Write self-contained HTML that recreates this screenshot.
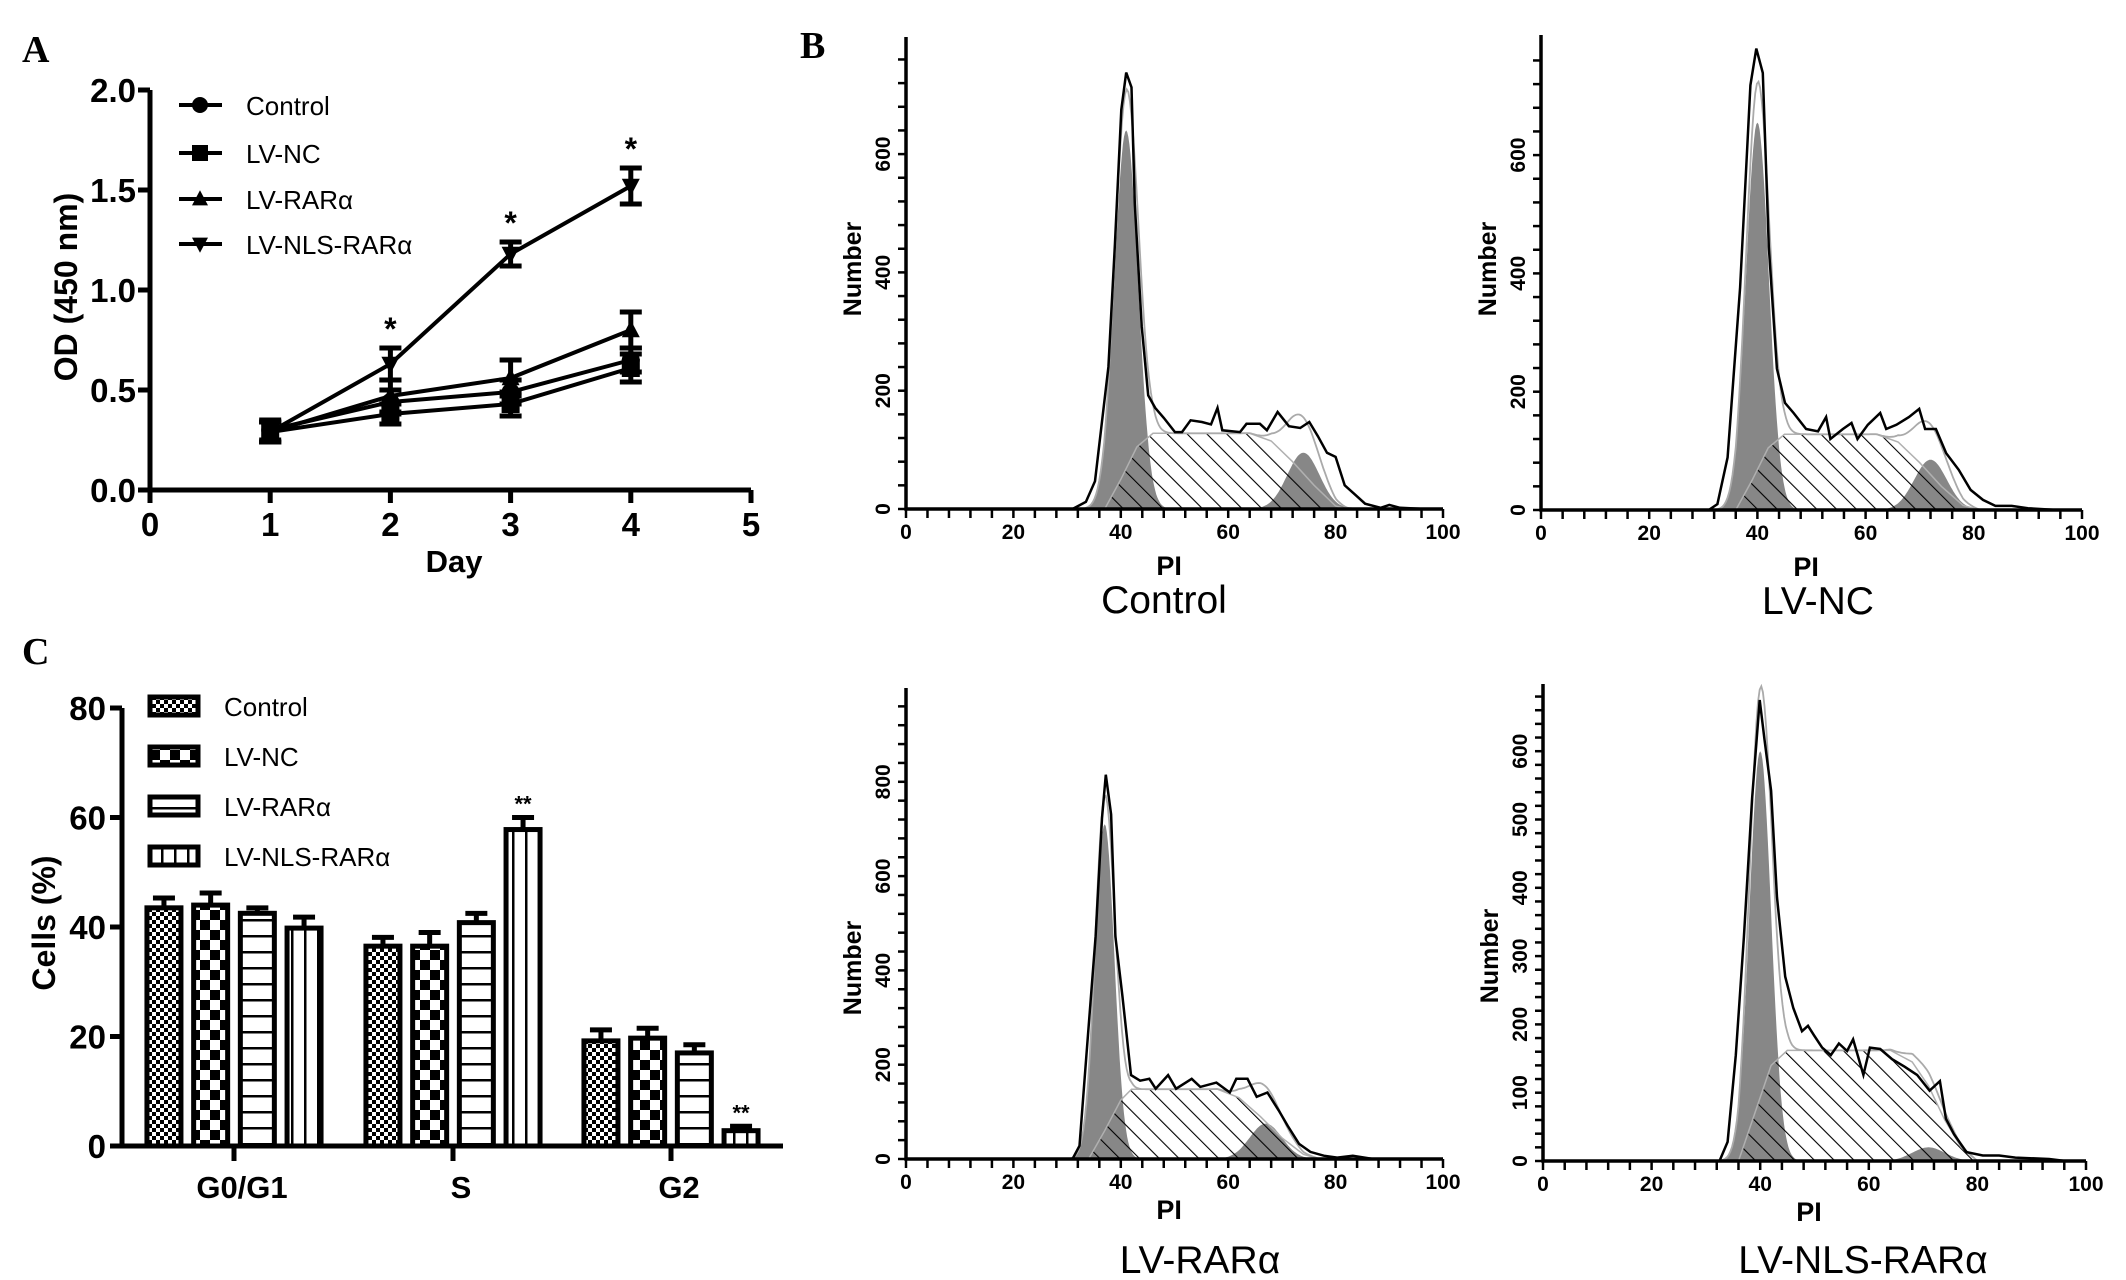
<!DOCTYPE html>
<html><head><meta charset="utf-8"><style>
html,body{margin:0;padding:0;background:#fff}
svg{display:block}
text{font-family:"Liberation Sans",sans-serif}
.ser{font-family:"Liberation Serif",serif;font-weight:bold}
.b{font-weight:bold}
</style></head><body>
<svg id="fig" width="2126" height="1280" viewBox="0 0 2126 1280" xmlns="http://www.w3.org/2000/svg">
<defs>
<pattern id="hatch" patternUnits="userSpaceOnUse" width="14" height="14" patternTransform="rotate(-45)"><line x1="0" y1="0" x2="0" y2="14" stroke="#000" stroke-width="2.2"/></pattern>
<pattern id="fineCheck" patternUnits="userSpaceOnUse" width="8" height="8"><rect width="8" height="8" fill="#fff"/><rect width="4" height="4" fill="#000"/><rect x="4" y="4" width="4" height="4" fill="#000"/></pattern>
<pattern id="bigCheck" patternUnits="userSpaceOnUse" width="20" height="20"><rect width="20" height="20" fill="#fff"/><rect width="10" height="10" fill="#000"/><rect x="10" y="10" width="10" height="10" fill="#000"/></pattern>
<pattern id="hLines" patternUnits="userSpaceOnUse" width="10" height="16"><rect width="10" height="16" fill="#fff"/><rect y="7" width="10" height="2.5" fill="#000"/></pattern>
<pattern id="vLines" patternUnits="userSpaceOnUse" width="13" height="10"><rect width="13" height="10" fill="#fff"/><rect x="5" width="2.5" height="10" fill="#000"/></pattern>
</defs>
<text x="22" y="62" class="ser" font-size="38">A</text>
<text x="22" y="664" class="ser" font-size="38">C</text>
<text x="800" y="58" class="ser" font-size="38">B</text>
<g id="gA"></g>
<g id="gC"></g>
<g id="gB"></g>
</svg>
<script>
// ---------- Panel A data ----------
const aDays = [1, 2, 3, 4];
const aSeries = ["Control", "LV-NC", "LV-RARα", "LV-NLS-RARα"];
const aControl = [0.30, 0.44, 0.49, 0.65];
const aLVNC = [0.29, 0.38, 0.43, 0.61];
const aLVRAR = [0.29, 0.47, 0.56, 0.80];
const aLVNLS = [0.29, 0.63, 1.18, 1.52];
const aErrControl = [0.05, 0.06, 0.06, 0.06];
const aErrLVNC = [0.05, 0.05, 0.06, 0.07];
const aErrLVRAR = [0.05, 0.08, 0.09, 0.09];
const aErrLVNLS = [0.05, 0.08, 0.06, 0.09];
const aXTicks = [0, 1, 2, 3, 4, 5];
const aYTicks = ["0.0", "0.5", "1.0", "1.5", "2.0"];
const aStarDays = [2, 3, 4];

// ---------- Panel C data ----------
const cPhases = ["G0/G1", "S", "G2"];
const cGroups = ["Control", "LV-NC", "LV-RARα", "LV-NLS-RARα"];
const cControl = [43.5, 36.5, 19.2];
const cLVNC = [44.0, 36.5, 19.7];
const cLVRAR = [42.5, 40.8, 17.0];
const cLVNLS = [39.8, 57.8, 2.8];
const cErrControl = [1.8, 1.6, 2.0];
const cErrLVNC = [2.2, 2.5, 1.8];
const cErrLVRAR = [1.0, 1.7, 1.5];
const cErrLVNLS = [2.0, 2.2, 0.8];
const cYTicks = [0, 20, 40, 60, 80];

// ---------- Panel B data (PI, count) ----------
const bTitles = ["Control", "LV-NC", "LV-RARα", "LV-NLS-RARα"];
const bOutlineControl = [[31,0],[33.5,12],[35.2,47],[37.7,240],[38.9,447],[40.1,675],[41,738],[42,713],[42.6,516],[43.9,309],[45.1,192],[46.4,171],[48,154],[50.1,130],[51.4,130],[53,150],[55.1,147],[56.8,143],[58,171],[58.9,133],[62.2,130],[63.4,144],[65.9,144],[67.2,133],[69.2,164],[71.3,140],[73.4,137],[75.1,147],[76.7,123],[78.4,95],[80,88],[81.7,40],[83.8,23],[85.5,9],[88.4,2],[90,7],[92,2],[96.7,0]];
const bOutlineLVNC = [[31,0],[32.6,10],[34.5,89],[36.8,376],[38.7,718],[39.8,780],[41,739],[42.1,445],[43.6,239],[45.1,181],[46.7,164],[49,137],[51.2,133],[52.7,157],[53.5,120],[55.8,137],[57.4,147],[58.5,120],[60.4,144],[62.7,164],[63.8,137],[65.7,144],[68,157],[69.9,171],[71,137],[73,137],[74.9,96],[77.2,68],[79.4,34],[81.7,17],[84,7],[87,7],[90,3],[95.4,0]];
const bOutlineLVRAR = [[31,0],[32.3,28],[33.6,220],[35.3,472],[36.5,723],[37.2,815],[38.2,731],[39,472],[40.3,346],[41.9,178],[43.6,166],[45.3,170],[46.5,149],[48.8,178],[50.3,149],[53.2,170],[54.8,153],[57.8,162],[60.3,141],[61.5,170],[63.6,170],[65.3,132],[67.3,141],[69.4,103],[71.1,70],[73.2,32],[75.3,15],[77.8,7],[80.3,3],[83.2,7],[87,0]];
const bOutlineLVNLS = [[32.5,0],[34,28],[35.5,155],[37,328],[38.5,531],[39.9,675],[40.8,617],[42,542],[43.1,386],[44.6,270],[46.1,224],[47.7,190],[48.8,198],[49.9,184],[51.4,166],[53,155],[54.5,172],[56,161],[57.1,178],[59,126],[60.2,166],[62.1,164],[64.3,149],[66.6,138],[68.9,126],[71.2,103],[73.1,117],[74.2,62],[75.7,39],[78,13],[81,8],[84,8],[87,5],[93.2,3],[96.2,0]];
// G1 peak: [center, height, sigma]; G2 peak: [center, height, sigma]
const bG1Control = [41, 640, 2.2];
const bG1LVNC = [40, 655, 2.1];
const bG1LVRAR = [37, 710, 1.8];
const bG1LVNLS = [40, 600, 2.0];
const bG2Control = [74, 95, 3.0];
const bG2LVNC = [72, 85, 3.0];
const bG2LVRAR = [67, 75, 3.0];
const bG2LVNLS = [71, 20, 3.0];
const bSControl = [[37,0],[40,50],[43,105],[46,128],[64,128],[68,115],[72,80],[76,40],[80,5],[82,0]];
const bSLVNC = [[36,0],[39,50],[42,105],[45,128],[62,128],[66,115],[70,80],[74,40],[78,8],[81,0]];
const bSLVRAR = [[34,0],[37,60],[40,125],[42,148],[58,148],[62,130],[66,90],[70,45],[74,10],[77,0]];
const bSLVNLS = [[36,0],[39,70],[42,140],[45,162],[64,162],[68,145],[71,110],[74,60],[77,20],[80,0]];
const bYTicksTop = [0, 200, 400, 600];
const bYTicksRar = [0, 200, 400, 600, 800];
const bYTicksNls = [0, 100, 200, 300, 400, 500, 600];
const bXTicks = [0, 20, 40, 60, 80, 100];

const NS = "http://www.w3.org/2000/svg";
function mk(parent, tag, attrs, txt) {
  const e = document.createElementNS(NS, tag);
  for (const k in attrs) e.setAttribute(k, attrs[k]);
  if (txt !== undefined) e.textContent = txt;
  parent.appendChild(e);
  return e;
}

// ================= Panel A =================
(function () {
  const g = document.getElementById("gA");
  const xA = d => 150 + d * 120.2;
  const yA = v => 490 - v * 200;
  const ax = mk(g, "path", {d: `M150,${yA(2)} V490 H${xA(5)}`, fill: "none", stroke: "#000", "stroke-width": 5});
  
  
  aYTicks.forEach(t => {
    const v = parseFloat(t);
    mk(g, "line", {x1: 138, x2: 150, y1: yA(v), y2: yA(v), stroke: "#000", "stroke-width": 5});
    const tx = mk(g, "text", {x: 136, y: yA(v) + 12, "text-anchor": "end", "font-size": 33, "font-weight": "bold", "font-family": "Liberation Sans Narrow, Liberation Sans, sans-serif"}, t);
    
    
  });
  aXTicks.forEach(d => {
    mk(g, "line", {x1: xA(d), x2: xA(d), y1: 490, y2: 503, stroke: "#000", "stroke-width": 5});
    const tx = mk(g, "text", {x: xA(d), y: 536, "text-anchor": "middle", "font-size": 33, "font-weight": "bold", "font-family": "Liberation Sans Narrow, Liberation Sans, sans-serif"}, String(d));
    
    
  });
  const xt = mk(g, "text", {x: 454, y: 572, "text-anchor": "middle", "font-size": 31, "font-weight": "bold"}, "Day");
  
  
  const yt = mk(g, "text", {x: 0, y: 0, transform: "translate(77,287) rotate(-90)", "text-anchor": "middle", "font-size": 32, "font-weight": "bold"}, "OD (450 nm)");
  
  

  const vals = [aControl, aLVNC, aLVRAR, aLVNLS];
  const errs = [aErrControl, aErrLVNC, aErrLVRAR, aErrLVNLS];
  const shapes = ["circle", "square", "tri", "itri"];
  function marker(p, s, x, y, r) {
    if (s === "circle") return mk(p, "circle", {cx: x, cy: y, r: r, fill: "#000"});
    if (s === "square") return mk(p, "rect", {x: x - r, y: y - r, width: 2 * r, height: 2 * r, fill: "#000"});
    if (s === "tri") return mk(p, "path", {d: `M${x},${y - r * 1.1} L${x + r},${y + r * 0.8} L${x - r},${y + r * 0.8}Z`, fill: "#000"});
    return mk(p, "path", {d: `M${x},${y + r * 1.1} L${x + r},${y - r * 0.8} L${x - r},${y - r * 0.8}Z`, fill: "#000"});
  }
  vals.forEach((arr, si) => {
    const sg = mk(g, "g", {});
    
    
    mk(sg, "polyline", {points: aDays.map((d, i) => xA(d) + "," + yA(arr[i])).join(" "), fill: "none", stroke: "#000", "stroke-width": 4});
    aDays.forEach((d, i) => {
      const e = errs[si][i];
      mk(sg, "path", {d: `M${xA(d)},${yA(arr[i] - e)} V${yA(arr[i] + e)} M${xA(d) - 11},${yA(arr[i] + e)} h22 M${xA(d) - 11},${yA(arr[i] - e)} h22`, stroke: "#000", "stroke-width": 5, fill: "none"});
      const m = marker(sg, shapes[si], xA(d), yA(arr[i]), 9);
      
      
    });
  });
  aStarDays.forEach(d => {
    const i = aDays.indexOf(d);
    const st = mk(g, "text", {x: xA(d), y: yA(aLVNLS[i] + aErrLVNLS[i]) - 8, "text-anchor": "middle", "font-size": 32, "font-weight": "bold"}, "*");
    
    
  });
  const ly = [105, 153, 199, 244];
  aSeries.forEach((s, i) => {
    const lg = mk(g, "g", {});
    
    
    mk(lg, "line", {x1: 179, x2: 222, y1: ly[i], y2: ly[i], stroke: "#000", "stroke-width": 4});
    marker(lg, shapes[i], 200, ly[i], 8);
    mk(lg, "text", {x: 246, y: ly[i] + 10, "font-size": 26}, s);
  });
})();

// ================= Panel C =================
(function () {
  const g = document.getElementById("gC");
  const yC = v => 1146 - v * 5.475;
  const gx = [234, 453, 671];
  const barW = 34, pitch = 46.7;
  const fills = ["url(#fineCheck)", "url(#bigCheck)", "url(#hLines)", "url(#vLines)"];
  const vals = [cControl, cLVNC, cLVRAR, cLVNLS];
  const errs = [cErrControl, cErrLVNC, cErrLVRAR, cErrLVNLS];
  const ax = mk(g, "path", {d: `M122,${yC(80)} V1146 H783`, fill: "none", stroke: "#000", "stroke-width": 5});
  
  
  cYTicks.forEach(v => {
    mk(g, "line", {x1: 110, x2: 122, y1: yC(v), y2: yC(v), stroke: "#000", "stroke-width": 5});
    const tx = mk(g, "text", {x: 106, y: yC(v) + 12, "text-anchor": "end", "font-size": 33, "font-weight": "bold", "font-family": "Liberation Sans Narrow, Liberation Sans, sans-serif"}, String(v));
    
    
  });
  cPhases.forEach((p, pi) => {
    mk(g, "line", {x1: gx[pi], x2: gx[pi], y1: 1146, y2: 1161, stroke: "#000", "stroke-width": 5});
    const tx = mk(g, "text", {x: gx[pi] + 8, y: 1198, "text-anchor": "middle", "font-size": 31, "font-weight": "bold"}, p);
    
    
    vals.forEach((arr, si) => {
      const x = gx[pi] - 1.5 * pitch - barW / 2 + si * pitch;
      const v = arr[pi], e = errs[si][pi];
      const cx = x + barW / 2;
      mk(g, "path", {d: `M${cx},${yC(v)} V${yC(v + e)} M${cx - 11},${yC(v + e)} h22`, stroke: "#000", "stroke-width": 5, fill: "none"});
      const r = mk(g, "rect", {x: x, y: yC(v), width: barW, height: 1146 - yC(v), fill: fills[si], stroke: "#000", "stroke-width": 5});
      
      
      if (si === 3 && pi > 0) {
        const st = mk(g, "text", {x: cx, y: yC(v + e) - 6, "text-anchor": "middle", "font-size": 22, "font-weight": "bold"}, "**");
        
        
      }
    });
  });
  const yt = mk(g, "text", {x: 0, y: 0, transform: "translate(55,923) rotate(-90)", "text-anchor": "middle", "font-size": 32, "font-weight": "bold"}, "Cells  (%)");
  
  
  const ly = [706, 756, 806, 856];
  cGroups.forEach((s, i) => {
    const lg = mk(g, "g", {});
    
    
    mk(lg, "rect", {x: 150, y: ly[i] - 9, width: 48, height: 18, fill: fills[i], stroke: "#000", "stroke-width": 5});
    mk(lg, "text", {x: 224, y: ly[i] + 10, "font-size": 26}, s);
  });
})();

// ================= Panel B =================
(function () {
  const g = document.getElementById("gB");
  const panels = [
    {ax: 906, ax100: 1443, y0: 509, k: 118.3 / 200, top: 37, minor: 40, maxTick: 760, yt: bYTicksTop, outline: bOutlineControl, g1: bG1Control, g2: bG2Control, s: bSControl, numY: 269, tx: 1164, pad: 104},
    {ax: 1541, ax100: 2082, y0: 510, k: 118.3 / 200, top: 35, minor: 40, maxTick: 760, yt: bYTicksTop, outline: bOutlineLVNC, g1: bG1LVNC, g2: bG2LVNC, s: bSLVNC, numY: 269, tx: 1818, pad: 104},
    {ax: 906, ax100: 1443, y0: 1159, k: 94.3 / 200, top: 688, minor: 40, maxTick: 960, yt: bYTicksRar, outline: bOutlineLVRAR, g1: bG1LVRAR, g2: bG2LVRAR, s: bSLVRAR, numY: 968, tx: 1200, pad: 114},
    {ax: 1543, ax100: 2086, y0: 1161, k: 68.3 / 100, top: 684, minor: 20, maxTick: 680, yt: bYTicksNls, outline: bOutlineLVNLS, g1: bG1LVNLS, g2: bG2LVNLS, s: bSLVNLS, numY: 956, tx: 1863, pad: 112}
  ];
  panels.forEach((P, pi) => {
    const pg = mk(g, "g", {});
    
    
    const X = v => P.ax + (P.ax100 - P.ax) * v / 100;
    const Y = c => P.y0 - c * P.k;
    const gauss = (p, x) => p[1] * Math.exp(-0.5 * Math.pow((x - p[0]) / p[2], 2));
    function peakPath(p) {
      let d = `M${X(p[0] - 4 * p[2])},${P.y0}`;
      for (let x = p[0] - 4 * p[2]; x <= p[0] + 4 * p[2]; x += 0.2) d += ` L${X(x).toFixed(1)},${Y(gauss(p, x)).toFixed(1)}`;
      return d + ` L${X(p[0] + 4 * p[2])},${P.y0}Z`;
    }
    const g1 = mk(pg, "path", {d: peakPath(P.g1), fill: "#878787"});
    
    
    const g2 = mk(pg, "path", {d: peakPath(P.g2), fill: "#878787"});
    
    
    const sp = mk(pg, "path", {d: "M" + P.s.map(q => X(q[0]).toFixed(1) + "," + Y(q[1]).toFixed(1)).join(" L") + "Z", fill: "url(#hatch)", stroke: "#b0b0b0", "stroke-width": 1.5});
    
    
    const sInterp = x => {
      const s = P.s;
      if (x <= s[0][0] || x >= s[s.length - 1][0]) return 0;
      for (let i = 0; i < s.length - 1; i++) if (x >= s[i][0] && x <= s[i + 1][0]) return s[i][1] + (s[i + 1][1] - s[i][1]) * (x - s[i][0]) / (s[i + 1][0] - s[i][0]);
      return 0;
    };
    let fd = "";
    for (let x = 30; x <= 90; x += 0.3) fd += (fd ? " L" : "M") + X(x).toFixed(1) + "," + Y(gauss(P.g1, x) + gauss(P.g2, x) + sInterp(x)).toFixed(1);
    const fit = mk(pg, "path", {d: fd, fill: "none", stroke: "#aaa", "stroke-width": 1.8});
    
    
    const ol = mk(pg, "polyline", {points: P.outline.map(q => X(q[0]).toFixed(1) + "," + Y(q[1]).toFixed(1)).join(" "), fill: "none", stroke: "#000", "stroke-width": 2.5});
    
    
    const ax = mk(pg, "path", {d: `M${P.ax},${P.top} V${P.y0} H${P.ax100}`, fill: "none", stroke: "#000", "stroke-width": 3.5});
    
    
    for (let v = 0; v <= P.maxTick; v += P.minor) mk(pg, "line", {x1: P.ax - 8, x2: P.ax, y1: Y(v), y2: Y(v), stroke: "#000", "stroke-width": 2.5});
    for (let v = 0; v <= 100; v += 4) mk(pg, "line", {x1: X(v), x2: X(v), y1: P.y0, y2: P.y0 + 9, stroke: "#000", "stroke-width": 2.5});
    P.yt.forEach(v => {
      const t = mk(pg, "text", {x: 0, y: 0, transform: `translate(${P.ax - 16},${Y(v)}) rotate(-90)`, "text-anchor": "middle", "font-size": 21, "font-weight": "bold", "font-family": "DejaVu Sans, sans-serif"}, String(v));
      
      
    });
    bXTicks.forEach(v => {
      const t = mk(pg, "text", {x: X(v), y: P.y0 + 30, "text-anchor": "middle", "font-size": 21, "font-weight": "bold", "font-family": "DejaVu Sans, sans-serif"}, String(v));
      
      
    });
    const pl = mk(pg, "text", {x: X(49), y: P.y0 + (P.pad > 110 ? 60 : 66), "text-anchor": "middle", "font-size": 27, "font-weight": "bold", "font-family": "DejaVu Sans, sans-serif"}, "PI");
    
    
    const nl = mk(pg, "text", {x: 0, y: 0, transform: `translate(${P.ax - 45},${P.numY}) rotate(-90)`, "text-anchor": "middle", "font-size": 25, "font-weight": "bold", "font-family": "DejaVu Sans, sans-serif"}, "Number");
    
    
    const tt = mk(pg, "text", {x: P.tx, y: P.y0 + P.pad, "text-anchor": "middle", "font-size": 39}, bTitles[pi]);
    
    
  });
})();
</script>
</body></html>
